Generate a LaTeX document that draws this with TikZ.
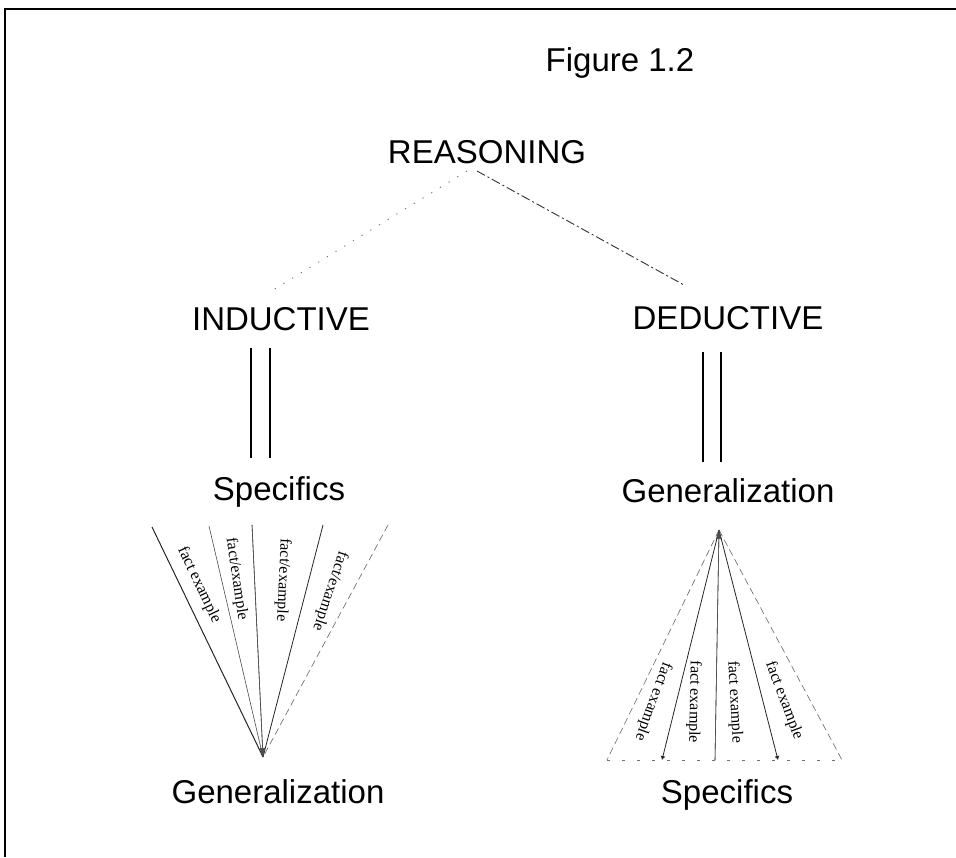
\documentclass[tikz,border=0pt]{standalone}
\usepackage{fontspec}
\setmainfont{Liberation Sans}
\newfontfamily\labserif{Liberation Serif}
\usetikzlibrary{arrows.meta}
\begin{document}
\begin{tikzpicture}[x=1pt,y=-1pt,
  big/.style={font=\fontsize{33}{38}\selectfont, inner sep=0pt, anchor=base},
  lab/.style={font=\labserif\fontsize{16}{17}\selectfont, inner sep=0pt, midway, sloped, allow upside down},
  frame/.style={line width=1.8pt, black},
  solidline/.style={line width=0.8pt, black!85},
  thinline/.style={line width=0.6pt, black!70},
  dashline/.style={line width=0.6pt, black!60, dash pattern=on 7pt off 4pt},
  dotline/.style={line width=0.9pt, black!55, dash pattern=on 1.2pt off 9pt},
  dashdot/.style={line width=0.9pt, black!80, dash pattern=on 9pt off 3pt on 2pt off 3pt},
  dbl/.style={line width=1.1pt, black},
  tip/.style={-{Latex[length=9pt,width=6pt]}}
]
\useasboundingbox (0,0) rectangle (956,857);
\fill[white] (0,0) rectangle (956,857);
% frame
\draw[frame] (5,857) -- (5,9) -- (956,9);

% titles
\node[big] (fig) at (620,71) {Figure 1.2};
\node[big] (reason) at (487,163) {REASONING};
\node[big] (induct) at (281,330) {INDUCTIVE};
\node[big] (deduct) at (728,329) {DEDUCTIVE};
\node[big] (specL) at (279,500) {Specifics};
\node[big] (genR) at (728,502) {Generalization};
\node[big] (genL) at (278,803) {Generalization};
\node[big] (specR) at (727,803) {Specifics};

% reasoning branches
\coordinate (rA) at (467,171);
\coordinate (rB) at (477,171);
\coordinate (iTop) at (273,290);
\coordinate (dTop) at (684,285);
\draw[dotline] (rA) -- (iTop);
\draw[dashdot] (rB) -- (dTop);

% double lines
\coordinate (i1a) at (251,348); \coordinate (i1b) at (251,458);
\coordinate (i2a) at (270,348); \coordinate (i2b) at (270,458);
\coordinate (d1a) at (703,352); \coordinate (d1b) at (703,462);
\coordinate (d2a) at (721,352); \coordinate (d2b) at (721,462);
\draw[dbl] (i1a) -- (i1b);
\draw[dbl] (i2a) -- (i2b);
\draw[dbl] (d1a) -- (d1b);
\draw[dbl] (d2a) -- (d2b);

% left fan (inductive)
\coordinate (apexL) at (263,757);
\coordinate (lt1) at (152,527);
\coordinate (lt2) at (209,526);
\coordinate (lt3) at (252,525);
\coordinate (lt4) at (323,525);
\coordinate (lt5) at (388,525);
\draw[solidline, line width=1pt] (lt1) -- (apexL);
\draw[thinline] (lt2) -- (apexL);
\draw[thinline] (lt3) -- (apexL);
\draw[solidline] (lt4) -- (apexL);
\draw[dashline] (lt5) -- (apexL);
\draw[thinline, tip] (lt3) -- (apexL);

\path (180,545) -- (218,625) node[lab] {fact example};
\path (230,535) -- (243,623) node[lab] {fact/example};
\path (285,537) -- (281,623) node[lab] {fact/example};
\path (343,552) -- (317,630) node[lab] {fact/example};

% right fan (deductive)
\coordinate (apexR) at (719,530);
\coordinate (rb1) at (607,760);
\coordinate (rb2) at (662,760);
\coordinate (rb3) at (715,760);
\coordinate (rb4) at (778,760);
\coordinate (rb5) at (842,760);
\draw[dashline] (apexR) -- (rb1);
\draw[solidline, -{Latex[length=4pt,width=5pt]}] (apexR) -- (rb2);
\draw[thinline] (apexR) -- (rb3);
\draw[solidline, -{Latex[length=4pt,width=5pt]}] (apexR) -- (rb4);
\draw[dashline] (apexR) -- (rb5);
\draw[thinline, tip] (rb3) -- (apexR);
\draw[line width=0.6pt, black!55, dash pattern=on 3pt off 12pt] (rb1) -- (rb5);

\path (668,660) -- (638,743) node[lab] {fact example};
\path (695,657) -- (693,747) node[lab] {fact example};
\path (732,657) -- (737,747) node[lab] {fact example};
\path (768,658) -- (800,743) node[lab] {fact example};
\end{tikzpicture}
\end{document}
